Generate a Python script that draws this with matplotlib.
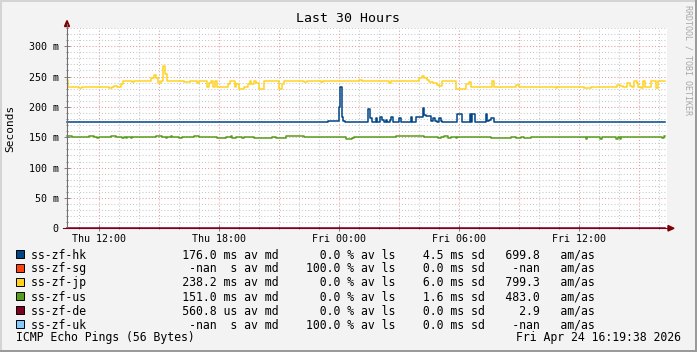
import numpy as np
import matplotlib
matplotlib.use('Agg')
import matplotlib.pyplot as plt
from matplotlib.patches import Polygon, Rectangle
from matplotlib.lines import Line2D

W, H = 697, 352
T0 = 10.4      # graph start, hours after Thu 00:00
T_END = 29.92  # last sample, hours after start

# median RTT (ms) as step series, time = hours after graph start
hk_t = [0.0, 13.05, 13.6, 13.65, 13.77, 13.82, 13.88, 15.07, 15.15, 15.27, 15.43,
        15.52, 15.65, 15.77, 15.85, 15.93, 16.02, 16.15, 16.22, 16.32, 16.6, 16.68,
        17.18, 17.27, 17.43, 17.82, 17.85, 17.93, 18.18, 18.22, 18.32, 18.4, 18.48,
        18.6, 18.68, 18.77, 19.52, 19.77, 20.15, 20.22, 20.27, 20.38, 20.93, 21.02,
        21.1, 21.18, 21.35, T_END]
hk_v = [175, 177, 200, 233, 184, 177, 175, 196, 181, 175, 181,
        175, 184, 179, 175, 179, 175, 178, 184, 175, 182, 175,
        184, 175, 184, 199, 186, 185, 179, 177, 181, 176, 175,
        181, 176, 175, 189, 175, 189, 175, 189, 175, 188, 177,
        179, 181, 175, 175]

jp_t = [0.0, 0.03, 0.6, 0.77, 2.1, 2.27, 2.35, 2.52, 2.68, 2.82, 3.27, 3.35, 4.22,
        4.35, 4.43, 4.55, 4.68, 4.82, 4.88, 4.98, 5.85, 6.15, 6.52, 6.6, 6.98,
        7.1, 7.22, 7.32, 7.38, 7.48, 7.6, 8.05, 8.15, 8.38, 8.47, 8.6, 8.85, 9.05,
        9.15, 9.22, 9.35, 9.43, 9.6, 9.85, 10.6, 10.77, 10.85, 11.85, 12.0, 12.7,
        12.8, 14.6, 14.77, 16.1, 16.22, 17.6, 17.75, 17.85, 17.98, 18.1, 18.32,
        18.52, 18.6, 18.77, 19.43, 19.93, 20.1, 20.18, 21.27, 21.35, 22.43, 22.6,
        24.43, 24.52, 25.85, 26.18, 27.52, 27.65, 27.82, 28.02, 28.15, 28.27,
        28.35, 28.48, 28.57, 28.68, 28.78, 28.88, 28.95, 29.18, 29.43, 29.57, T_END]
jp_v = [245, 232, 230.5, 232, 230.5, 232, 234, 232, 237, 243, 241, 243, 247,
        252, 247, 240, 243, 267, 254, 243, 241, 243, 240, 243, 233,
        240, 243, 233, 243, 233, 232, 237, 243, 232, 237, 230, 232, 237,
        243, 237, 243, 240, 230, 243, 230, 237, 243, 241, 243, 241,
        243, 245, 243, 240, 243, 247, 251, 247, 244, 241, 239,
        236, 234, 243, 230, 237, 241, 233, 243, 232, 236, 232,
        230.5, 232, 230.5, 232, 236, 234, 232, 240, 234, 232,
        243, 239, 232, 230.5, 243, 233, 232, 243, 230.5, 243, 243]

us_t = [0.0, 0.27, 1.1, 1.35, 1.52, 1.6, 2.18, 2.43, 2.77, 2.85, 2.93, 3.02, 3.18,
        3.27, 4.43, 4.77, 4.93, 5.02, 5.18, 5.27, 5.6, 5.77, 6.35, 6.6, 7.52, 7.93,
        8.18, 8.27, 8.43, 8.77, 8.85, 9.18, 9.35, 10.27, 10.43, 10.93, 11.85, 13.05,
        13.93, 14.27, 14.35, 16.43, 17.85, 18.55, 18.72, 18.85, 19.05, 19.18, 19.43,
        19.52, 20.18, 20.35, 21.18, 22.18, 22.43, 22.68, 22.85, 23.18, 25.1, 25.18,
        25.93, 26.02, 26.65, 26.77, 26.85, 27.43, 27.55, 27.65, 27.72, 29.77, 29.85,
        T_END]
us_v = [152.8, 151.2, 152.8, 151.2, 148.4, 151.2, 152.8, 151.2, 148.4, 150.1, 148.4,
        150.1, 148.4, 151.2, 152.8, 151.2, 148.4, 151.2, 152.8, 151.2, 148.4, 151.2,
        152.8, 151.2, 148.4, 151.2, 152.8, 148.4, 151.2, 148.4, 150.1, 151.2, 148.4,
        151.2, 148.4, 152.3, 151.2, 150.1, 146.8, 148.4, 150.1, 151.7, 151.2, 149.5,
        151.2, 152.3, 149.5, 151.2, 149.5, 151.2, 150.1, 151.2, 149.0, 151.0, 149.5,
        151.2, 148.4, 151.2, 150.1, 151.2, 146.8, 151.2, 146.8, 150.1, 151.2, 146.8,
        151.2, 146.8, 151.2, 148.4, 152.3, 152.3]

de_t = [0.0, T_END]
de_v = [0.5608, 0.5608]

names = ['ss-zf-hk', 'ss-zf-sg', 'ss-zf-jp', 'ss-zf-us', 'ss-zf-de', 'ss-zf-uk']
colors = ['#004586', '#ff420e', '#ffd320', '#579d1c', '#7e0021', '#83caff']
median = ['176.0', '-nan', '238.2', '151.0', '560.8', '-nan']
median_unit = ['ms', ' s', 'ms', 'ms', 'us', ' s']
loss = ['0.0', '100.0', '0.0', '0.0', '0.0', '100.0']
stddev = ['4.5', '0.0', '6.0', '1.6', '0.0', '0.0']
amas = ['699.8', '-nan', '799.3', '483.0', '2.9', '-nan']

x_ticks = [12, 18, 24, 30, 36]
x_labels = ['Thu 12:00', 'Thu 18:00', 'Fri 00:00', 'Fri 06:00', 'Fri 12:00']
y_ticks = [0, 50, 100, 150, 200, 250, 300]

MONO = 'DejaVu Sans Mono'
BACK = '#f3f3f3'


def fx(x):
    return x / W


def fy(y):
    return 1 - y / H


fig = plt.figure(figsize=(W / 100, H / 100), dpi=100, facecolor=BACK)

x0, x1, y_top, y_bot = 67, 667, 28.0, 228.3
ax = fig.add_axes([fx(x0), fy(y_bot), (x1 - x0) / W, (y_bot - y_top) / H])
ax.set_facecolor('white')
ax.set_xlim(T0, T0 + 30)
ax.set_ylim(0, 330)
for s in ax.spines.values():
    s.set_visible(False)

# grid: minor every 1 h / 10 ms, major every 3 h / 50 ms
dots = (0, (1, 2))
for h in np.arange(11, 41, 1):
    if h % 3:
        ax.axvline(h, color='#c8c8c8', lw=0.75, ls=dots, zorder=0)
for v in np.arange(10, 331, 10):
    if v % 50:
        ax.axhline(v, color='#c8c8c8', lw=0.75, ls=dots, zorder=0)
for h in np.arange(12, 41, 3):
    ax.axvline(h, color='#e79a9a', lw=0.75, ls=dots, zorder=1)
for v in np.arange(50, 331, 50):
    ax.axhline(v, color='#e79a9a', lw=0.75, ls=dots, zorder=1)

series = [(hk_t, hk_v, colors[0]), (jp_t, jp_v, colors[2]),
          (us_t, us_v, colors[3]), (de_t, de_v, colors[4])]
for t, v, c in series:
    ax.step(T0 + np.array(t), v, where='post', color=c, lw=1.1, zorder=3,
            clip_on=False)

ax.set_xticks(x_ticks)
ax.set_xticklabels(x_labels, fontfamily=MONO, fontsize=7.2)
ax.set_xticks(np.arange(11, 41, 1), minor=True)
ax.set_yticks(y_ticks)
ax.set_yticklabels(['0' if v == 0 else f'{v} m' for v in y_ticks],
                   fontfamily=MONO, fontsize=7.2)
ax.set_yticks(np.arange(10, 331, 10), minor=True)
ax.tick_params(which='both', direction='inout', color='#808080', width=0.7)
ax.tick_params(which='major', length=4)
ax.tick_params(which='minor', length=2)
ax.tick_params(axis='y', pad=4)
ax.tick_params(axis='x', pad=2)

# axes lines and arrows
fig.add_artist(Line2D([fx(x0), fx(x0)], [fy(y_bot), fy(24)], color='#707070',
                      lw=0.8, transform=fig.transFigure))
fig.add_artist(Line2D([fx(63), fx(669)], [fy(y_bot), fy(y_bot)], color='#7e0021',
                      lw=0.8, transform=fig.transFigure))
fig.add_artist(Polygon([(fx(64.5), fy(26.5)), (fx(69.5), fy(26.5)), (fx(67), fy(20.5))],
                       closed=True, color='#800000', transform=fig.transFigure))
fig.add_artist(Polygon([(fx(668), fy(225.5)), (fx(668), fy(231)), (fx(674), fy(228.3))],
                       closed=True, color='#800000', transform=fig.transFigure))

fig.text(fx(348), fy(19), 'Last 30 Hours', fontfamily=MONO, fontsize=9.5,
         ha='center', va='center')
fig.text(fx(10), fy(128), 'Seconds', fontfamily=MONO, fontsize=8,
         rotation=90, ha='center', va='center')
fig.text(fx(688), fy(60), 'RRDTOOL / TOBI OETIKER', fontfamily=MONO, fontsize=6,
         rotation=270, ha='center', va='center', color='#a8a8a8')

# legend
for i, name in enumerate(names):
    yc = 254 + 14 * i
    fig.add_artist(Rectangle((fx(16), fy(yc + 4)), 8 / W, 8 / H,
                             facecolor=colors[i], edgecolor='black', lw=0.7,
                             transform=fig.transFigure))
    row = (f'{name:<8}{median[i]:>19} {median_unit[i]} av md{loss[i]:>9} % av ls'
           f'{stddev[i]:>7} ms sd{amas[i]:>8}   am/as')
    fig.text(fx(30.7), fy(yc + 4.2), row, fontfamily=MONO, fontsize=8.3,
             ha='left', va='baseline')

fig.text(fx(16), fy(341.5), 'ICMP Echo Pings (56 Bytes)', fontfamily=MONO,
         fontsize=8.3, ha='left', va='baseline')
fig.text(fx(681), fy(341.5), 'Fri Apr 24 16:19:38 2026', fontfamily=MONO,
         fontsize=8.3, ha='right', va='baseline')

# 3d frame
for (xa, ya, xb, yb, c) in [(0, 0.7, W, 0.7, '#d4d4d4'), (0.7, 0, 0.7, H, '#d4d4d4'),
                             (0, H - 1, W, H - 1, '#9a9a9a'), (W - 1, 0, W - 1, H, '#9a9a9a')]:
    fig.add_artist(Line2D([fx(xa), fx(xb)], [fy(ya), fy(yb)], color=c, lw=1.44,
                          transform=fig.transFigure))

fig.savefig('out.png', dpi=100, facecolor=BACK)
